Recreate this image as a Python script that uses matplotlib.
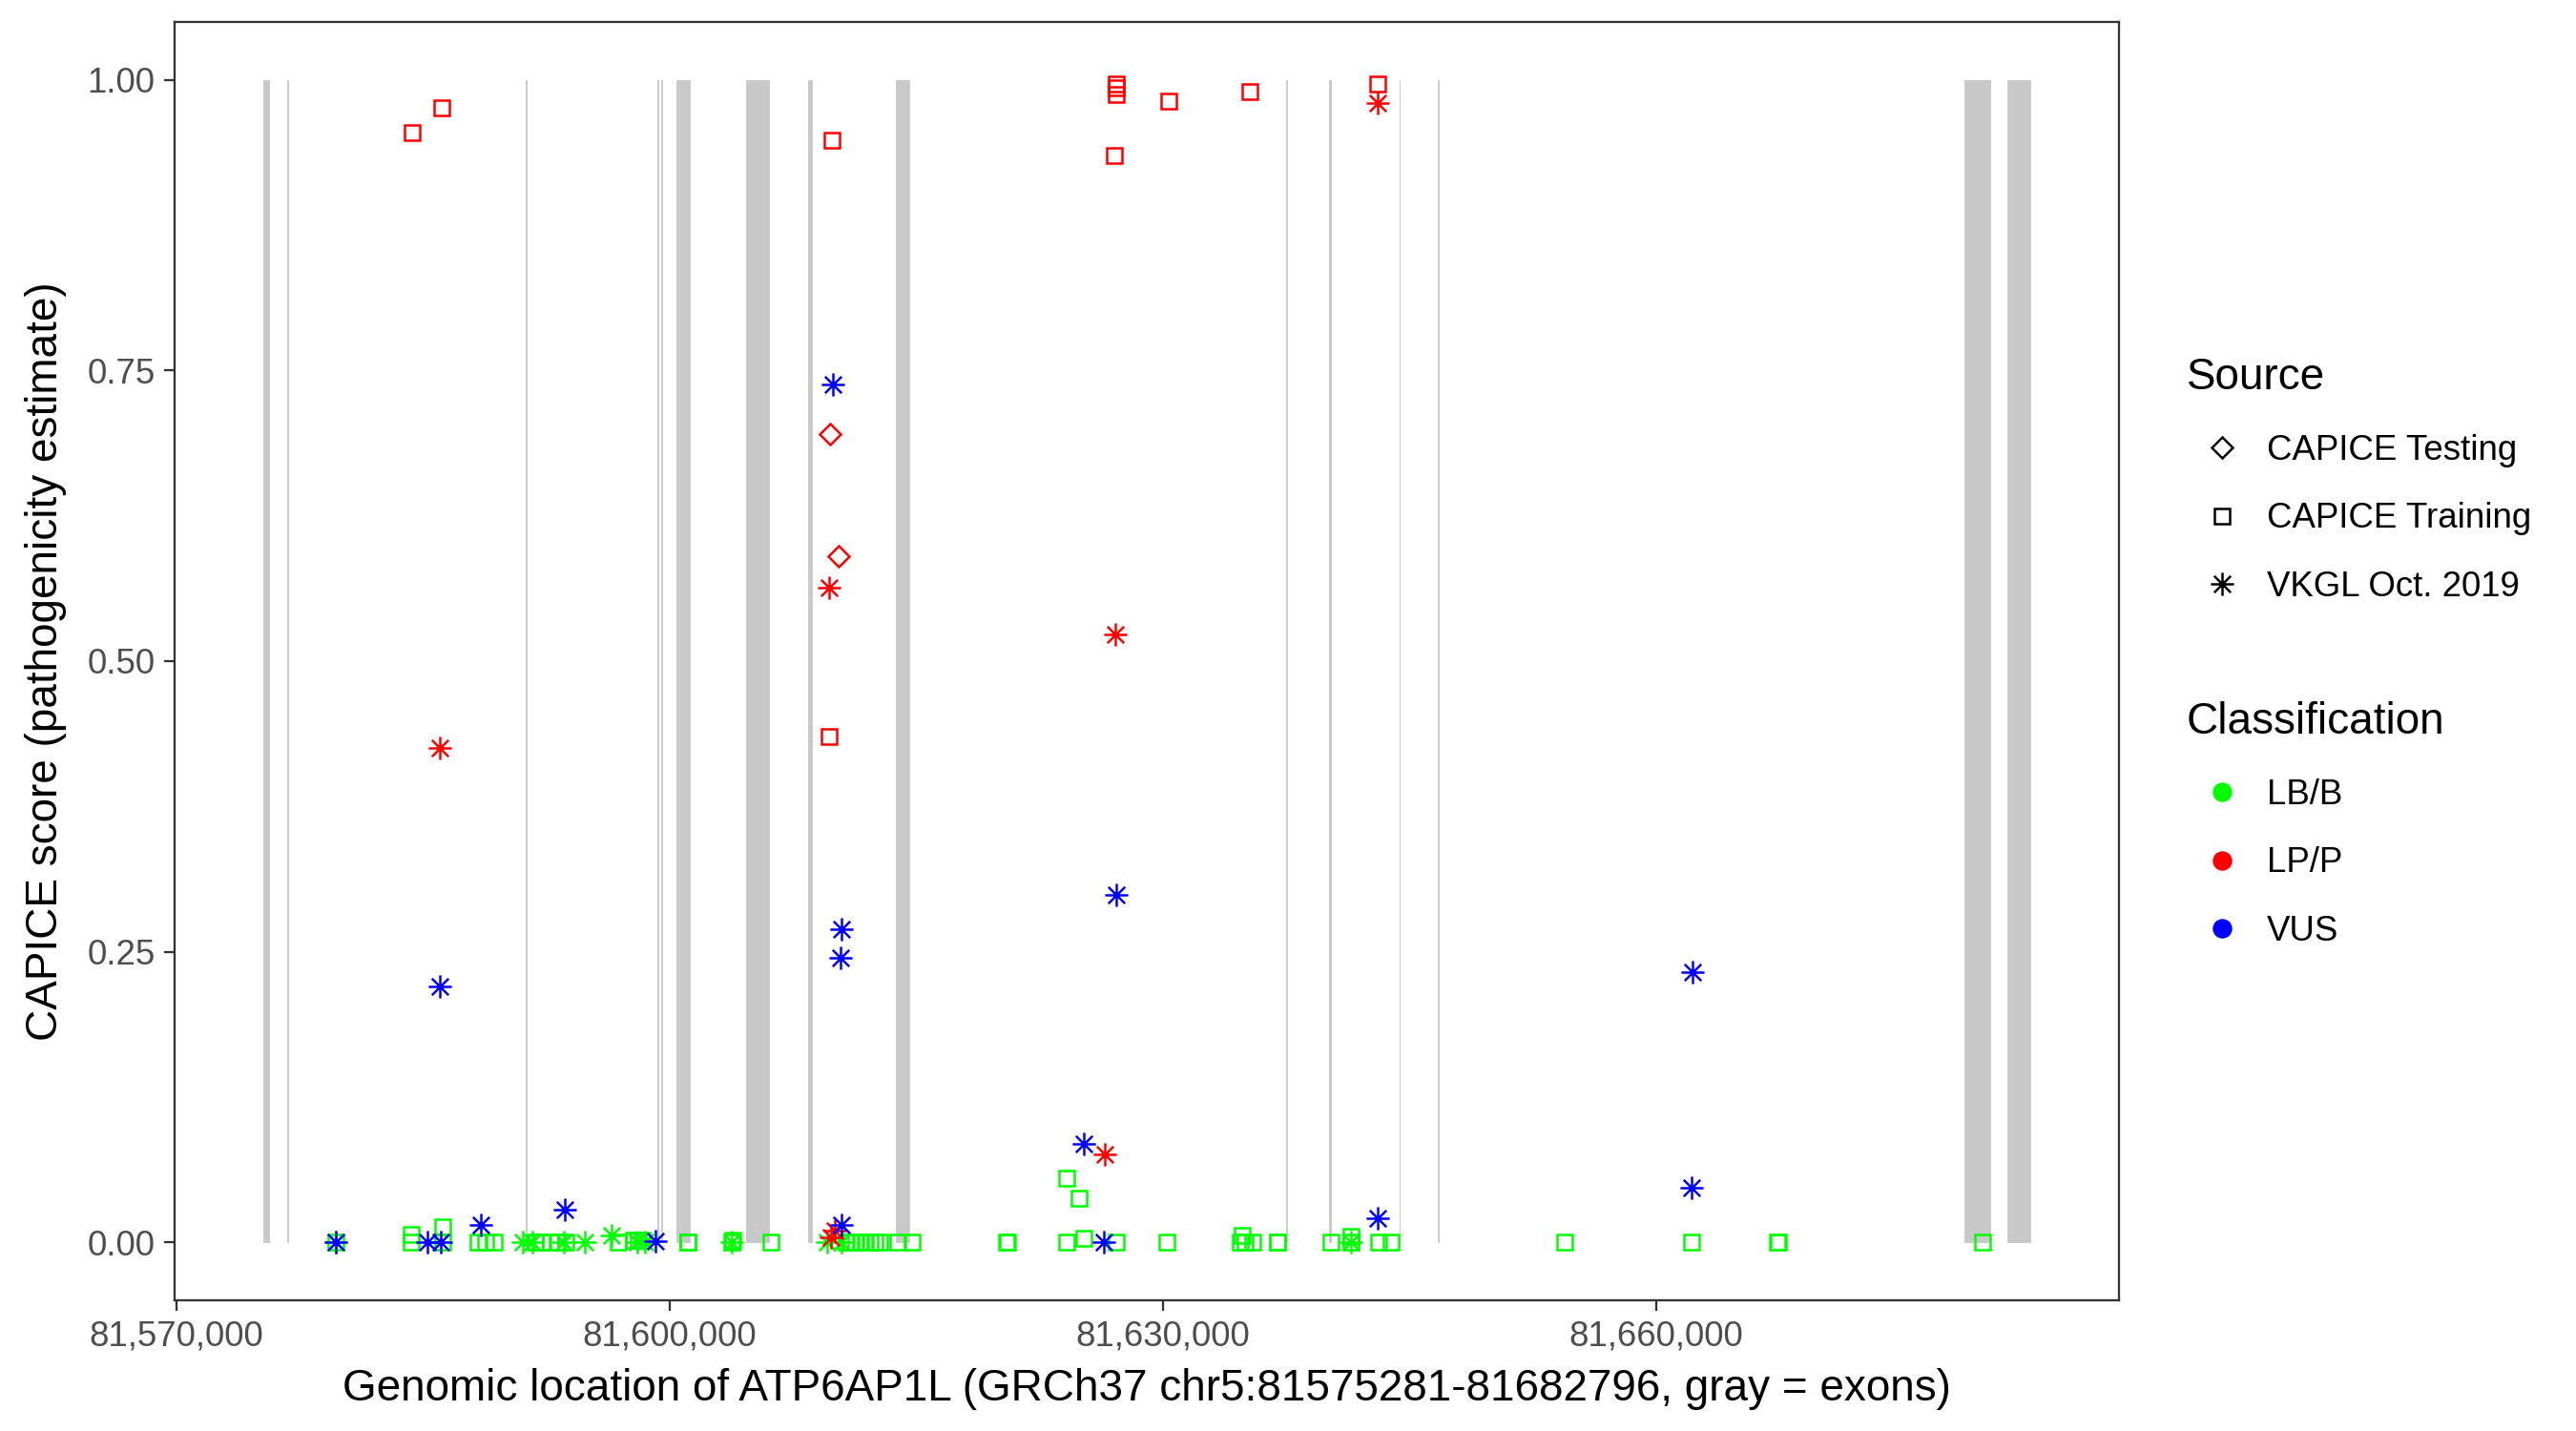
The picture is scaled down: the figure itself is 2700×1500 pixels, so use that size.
import matplotlib
matplotlib.use('Agg')
import matplotlib.pyplot as plt
from matplotlib.path import Path
from matplotlib.lines import Line2D
from matplotlib.ticker import FuncFormatter

plt.rcParams['font.family'] = ['Liberation Sans', 'DejaVu Sans']

# exons of ATP6AP1L (gray bars)
exon_start = [81575281, 81576760, 81591270, 81599250, 81599500, 81600431, 81600686,
              81604644, 81608411, 81613801, 81637530, 81640150, 81644390, 81646730,
              81678762, 81681370]
exon_end = [81575658, 81576820, 81591330, 81599300, 81599550, 81600628, 81601266,
            81606035, 81608642, 81614612, 81637590, 81640250, 81644440, 81646790,
            81680310, 81682796]

# CAPICE Training, LB/B
train_lbb_pos = [81579708, 81584304, 81584304, 81586216, 81586216, 81588360, 81588824,
                 81589345, 81591837, 81592243, 81592764, 81593228, 81593692, 81596862,
                 81597806, 81598096, 81598328, 81601109, 81601130, 81603816, 81603840,
                 81606151, 81610787, 81611077, 81611367, 81611657, 81611947, 81612237,
                 81612527, 81612817, 81613899, 81614786, 81620523, 81620545, 81624191,
                 81624909, 81624191, 81625217, 81627187, 81630276, 81634720, 81634836,
                 81635010, 81635474, 81636960, 81637000, 81640266, 81641483, 81641483,
                 81643123, 81643876, 81654464, 81662148, 81667400, 81667440, 81679881]
train_lbb_score = [0, 0.007, 0, 0.013, 0, 0, 0,
                   0, 0, 0, 0, 0, 0, 0,
                   0.002, 0.002, 0.002, 0, 0, 0, 0.002,
                   0, 0, 0, 0, 0, 0, 0,
                   0, 0, 0, 0, 0, 0, 0.055,
                   0.038, 0, 0.003, 0, 0, 0, 0.006,
                   0, 0, 0, 0, 0, 0, 0.005,
                   0, 0, 0, 0, 0, 0, 0]

# CAPICE Training, LP/P
train_lpp_pos = [81584333, 81586147, 81609715, 81609895, 81627071, 81627158, 81627158,
                 81627158, 81630397, 81635300, 81643100]
train_lpp_score = [0.955, 0.976, 0.435, 0.948, 0.935, 0.997, 0.993,
                   0.988, 0.982, 0.990, 0.997]

# CAPICE Testing, LP/P
test_lpp_pos = [81609744, 81610323]
test_lpp_score = [0.695, 0.590]

# VKGL Oct. 2019
vkgl_lbb_pos = [81579708, 81591084, 81591663, 81593576, 81594833, 81596473, 81598038,
                81598501, 81603816, 81609570, 81610497, 81641483]
vkgl_lbb_score = [0, 0, 0, 0, 0, 0.006, 0, 0, 0, 0, 0, 0]

vkgl_lpp_pos = [81586042, 81609715, 81609802, 81610034, 81626474, 81627111, 81643100]
vkgl_lpp_score = [0.425, 0.563, 0.004, 0.010, 0.076, 0.523, 0.980]

vkgl_vus_pos = [81579708, 81585272, 81586042, 81586100, 81588534, 81593616, 81599180,
                81609947, 81610439, 81610462, 81610480, 81625199, 81626451, 81627187,
                81643065, 81662148, 81662247]
vkgl_vus_score = [0, 0, 0.220, 0, 0.0145, 0.028, 0.001,
                  0.738, 0.245, 0.269, 0.0145, 0.085, 0, 0.299,
                  0.021, 0.047, 0.232]

gene_start, gene_end = 81575281, 81682796

GREEN, RED, BLUE = '#00FF00', '#FF0000', '#0000FF'

# ggplot-like asterisk (plus + shorter cross)
a = 0.72
star = Path([(0, -1), (0, 1), (-1, 0), (1, 0), (-a, -a), (a, a), (-a, a), (a, -a)],
            [Path.MOVETO, Path.LINETO] * 4)

MS_SQ, MS_D, MS_ST, MEW = 3.85, 3.65, 5.8, 0.6


def pts(ax, x, y, marker, color, ms):
    ax.plot(x, y, linestyle='none', marker=marker, markersize=ms,
            markerfacecolor='none', markeredgecolor=color, markeredgewidth=MEW,
            zorder=3)


fig = plt.figure(figsize=(9, 5), dpi=300)
ax = fig.add_axes([183 / 2700, 1 - 1363 / 1500, (2221 - 183) / 2700, (1363 - 23) / 1500])

widths = [e - s for s, e in zip(exon_start, exon_end)]
ax.bar(exon_start, [1] * len(exon_start), width=widths, bottom=0, align='edge',
       color='#C8C8C8', edgecolor='#C8C8C8', linewidth=0.2, zorder=1)

pts(ax, train_lbb_pos, train_lbb_score, 's', GREEN, MS_SQ)
pts(ax, vkgl_lbb_pos, vkgl_lbb_score, star, GREEN, MS_ST)
pts(ax, train_lpp_pos, train_lpp_score, 's', RED, MS_SQ)
pts(ax, test_lpp_pos, test_lpp_score, 'D', RED, MS_D)
pts(ax, vkgl_lpp_pos, vkgl_lpp_score, star, RED, MS_ST)
pts(ax, vkgl_vus_pos, vkgl_vus_score, star, BLUE, MS_ST)

span = gene_end - gene_start
ax.set_xlim(gene_start - 0.05 * span, gene_end + 0.05 * span)
ax.set_ylim(-0.05, 1.05)
ax.set_xticks([81570000, 81600000, 81630000, 81660000])
ax.xaxis.set_major_formatter(FuncFormatter(lambda v, p: '{:,}'.format(int(v))))
ax.set_yticks([0, 0.25, 0.5, 0.75, 1.0])
ax.set_yticklabels(['0.00', '0.25', '0.50', '0.75', '1.00'])

for s in ax.spines.values():
    s.set_color('#333333')
    s.set_linewidth(0.55)
ax.tick_params(axis='both', length=2.75, width=0.55, color='#333333',
               labelsize=8.8, labelcolor='#4D4D4D', pad=2.2)

ax.set_xlabel('Genomic location of ATP6AP1L (GRCh37 chr5:81575281-81682796, gray = exons)',
              fontsize=11, labelpad=3.8)
ax.set_ylabel('CAPICE score (pathogenicity estimate)', fontsize=11, labelpad=5)

# legends
src_handles = [
    Line2D([], [], linestyle='none', marker='D', markersize=MS_D, markerfacecolor='none',
           markeredgecolor='black', markeredgewidth=MEW),
    Line2D([], [], linestyle='none', marker='s', markersize=MS_SQ, markerfacecolor='none',
           markeredgecolor='black', markeredgewidth=MEW),
    Line2D([], [], linestyle='none', marker=star, markersize=MS_ST, markerfacecolor='none',
           markeredgecolor='black', markeredgewidth=MEW),
]
cls_handles = [
    Line2D([], [], linestyle='none', marker='o', markersize=3.9, color=c)
    for c in (GREEN, RED, BLUE)
]

leg_kw = dict(loc='upper left', frameon=False, fontsize=8.8, title_fontsize=11,
              alignment='left', borderpad=0, handlelength=2.0, handletextpad=0.3,
              labelspacing=1.0, borderaxespad=0)
leg1 = fig.legend(src_handles, ['CAPICE Testing', 'CAPICE Training', 'VKGL Oct. 2019'],
                  title='Source', bbox_to_anchor=(2292 / 2700, 1 - 374 / 1500), **leg_kw)
leg2 = fig.legend(cls_handles, ['LB/B', 'LP/P', 'VUS'],
                  title='Classification', bbox_to_anchor=(2292 / 2700, 1 - 735 / 1500), **leg_kw)

fig.savefig('out.png', dpi=300)
